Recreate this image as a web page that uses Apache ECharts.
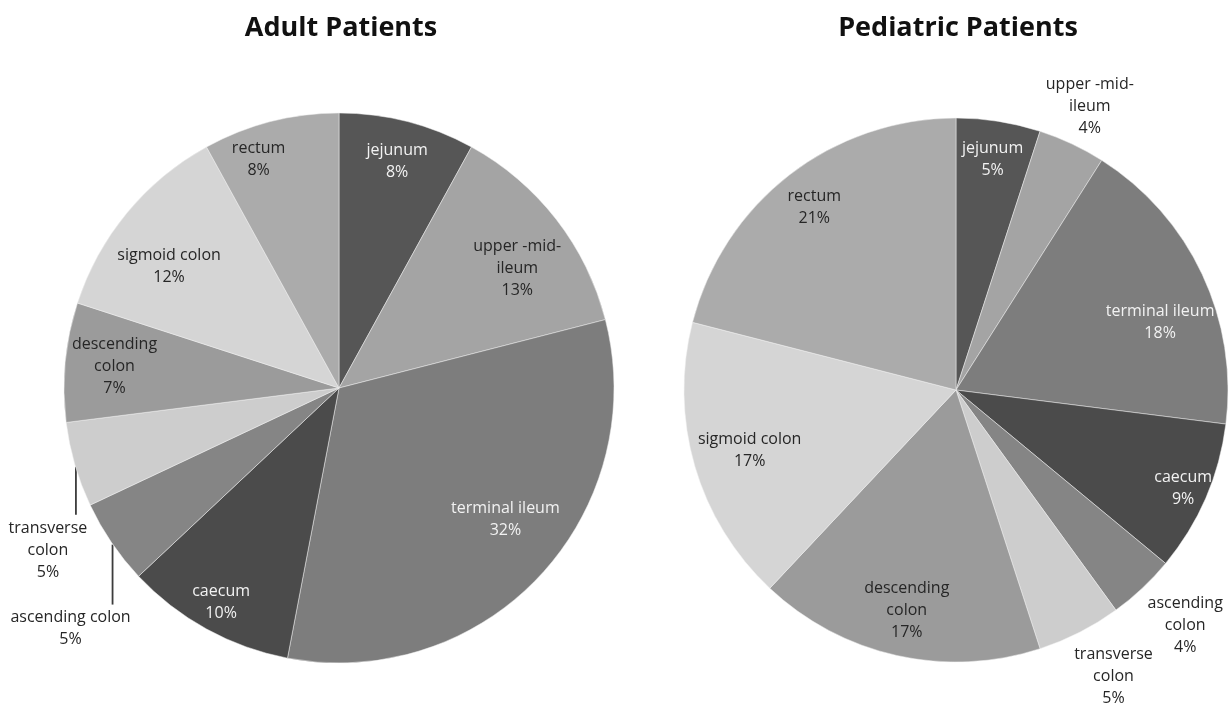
<!DOCTYPE html>
<html><head><meta charset="utf-8">
<script src="https://cdn.jsdelivr.net/npm/echarts@6/dist/echarts.min.js"></script>
<style>html,body{margin:0;padding:0;background:#fff}#chart{width:1230px;height:709px}</style>
</head><body><div id="chart"></div>
<script>
// ---- data ----
const titles = ["Adult Patients", "Pediatric Patients"];
const adultCategories = ["jejunum", "upper -mid-\nileum", "terminal ileum", "caecum", "ascending colon", "transverse\ncolon", "descending\ncolon", "sigmoid colon", "rectum"];
const adultValues = [8, 13, 32, 10, 5, 5, 7, 12, 8];
const pediatricCategories = ["jejunum", "upper -mid-\nileum", "terminal ileum", "caecum", "ascending\ncolon", "transverse\ncolon", "descending\ncolon", "sigmoid colon", "rectum"];
const pediatricValues = [5, 4, 18, 9, 4, 5, 17, 17, 21];

// ---- styles ----
const sliceColors = ['#565656', '#a4a4a4', '#7d7d7d', '#4b4b4b', '#858585', '#cdcdcd', '#9b9b9b', '#d5d5d5', '#ababab'];
const labelColors = ['#f2f2f2', '#262626', '#f2f2f2', '#f2f2f2', '#262626', '#262626', '#262626', '#262626', '#262626'];
const FONT = "'Open Sans', 'Noto Sans', sans-serif";

const pies = [
  { center: [339, 388], radius: 275, titleX: 341, names: adultCategories, values: adultValues,
    labelRadius: [0.85, 0.78, 0.77, 0.89, null, null, 0.82, 0.76, 0.88],
    labelTurn:   [0, 4, -5, 0, 0, 0, 0, -4, -5],
    outside: { 4: { dx: -41, dy: 64, line: [2, 62] }, 5: { dx: -27, dy: 53, line: [2, 50] } } },
  { center: [956, 390], radius: 272, titleX: 958, names: pediatricCategories, values: pediatricValues,
    labelRadius: [0.86, null, 0.79, 0.91, null, null, 0.83, 0.79, 0.85],
    labelTurn:   [0, 0, 7, 0, 0, 0, 0, 0, 0],
    outside: { 1: { dx: 18, dy: -4, valign: 'bottom' }, 4: { dx: 43, dy: 4 }, 5: { dx: 34, dy: 11 } } }
];

const chart = echarts.init(document.getElementById('chart'), null, { renderer: 'canvas' });

const series = pies.map(function (p) {
  return {
    type: 'pie',
    center: p.center,
    radius: [0, p.radius],
    startAngle: 90,
    clockwise: true,
    avoidLabelOverlap: false,
    silent: true,
    animation: false,
    itemStyle: { borderColor: '#f0f0f0', borderWidth: 0.5 },
    label: {
      show: true, position: 'inside', formatter: '{b}\n{c}%',
      fontFamily: FONT, fontSize: 16, lineHeight: 22, align: 'center'
    },
    labelLine: { show: false },
    data: p.names.map(function (n, i) {
      const o = p.outside[i];
      const item = {
        name: n, value: p.values[i],
        itemStyle: { color: sliceColors[i] },
        label: { color: labelColors[i], textBorderWidth: 0 }
      };
      if (o) {
        item.label.position = 'outside';
        item.labelLine = { show: true, length: 10, length2: 5, lineStyle: { color: '#3c3c3c', width: 1.8, opacity: o.line ? 1 : 0 } };
      }
      return item;
    }),
    labelLayout: function (params) {
      const i = params.dataIndex;
      const o = p.outside[i];
      if (o) {
        const p0 = params.labelLinePoints ? params.labelLinePoints[0] : [params.labelRect.x, params.labelRect.y];
        const res = { x: p0[0] + o.dx, y: p0[1] + o.dy, align: 'center', verticalAlign: o.valign || 'top' };
        if (o.line) {
          res.labelLinePoints = [[p0[0] + 1, p0[1] + o.line[0]], [p0[0] + 1, p0[1] + o.line[1]]];
        } else {
          res.labelLinePoints = [[p0[0], p0[1]], [p0[0], p0[1]]];
        }
        return res;
      }
      const lr = params.labelRect;
      const lx = lr.x + lr.width / 2, ly = lr.y + lr.height / 2;
      let vx = lx - p.center[0], vy = ly - p.center[1];
      const len = Math.sqrt(vx * vx + vy * vy) || 1;
      vx /= len; vy /= len;
      const a = (p.labelTurn[i] || 0) * Math.PI / 180;
      const rx = vx * Math.cos(a) - vy * Math.sin(a);
      const ry = vx * Math.sin(a) + vy * Math.cos(a);
      const f = p.labelRadius[i] * p.radius;
      return { x: p.center[0] + rx * f, y: p.center[1] + ry * f, align: 'center', verticalAlign: 'middle' };
    }
  };
});

chart.setOption({
  backgroundColor: '#ffffff',
  animation: false,
  graphic: pies.map(function (p, k) {
    return {
      type: 'text', x: p.titleX, y: 28,
      style: {
        text: titles[k], textAlign: 'center', textVerticalAlign: 'middle',
        align: 'center', verticalAlign: 'middle',
        fontFamily: FONT, fontWeight: 'bold', fontSize: 27, fill: '#111111'
      }
    };
  }),
  series: series
});
</script>
</body></html>
